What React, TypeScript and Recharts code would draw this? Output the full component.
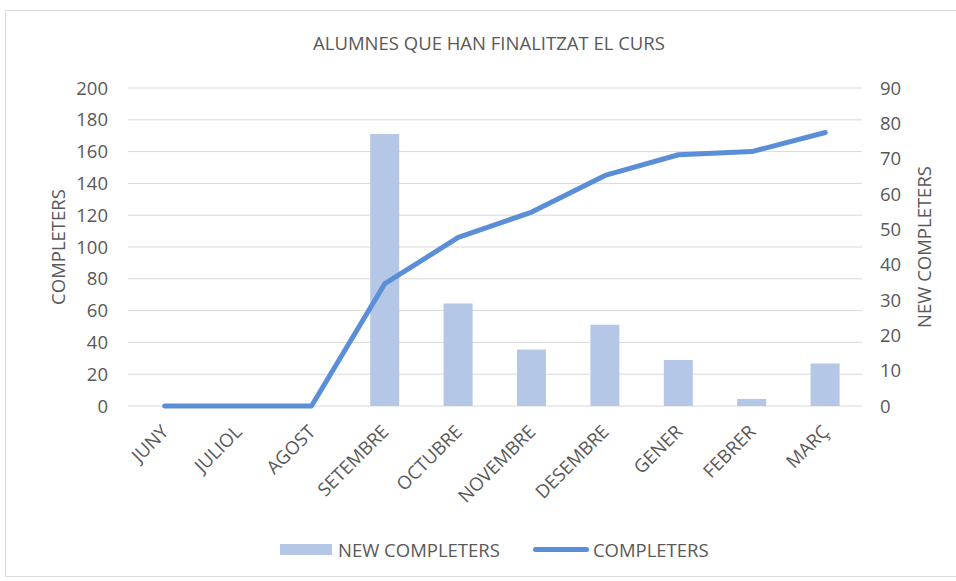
import React from 'react';
import { ComposedChart, Bar, Line, XAxis, YAxis, CartesianGrid, Label } from 'recharts';

const months = ['JUNY', 'JULIOL', 'AGOST', 'SETEMBRE', 'OCTUBRE', 'NOVEMBRE', 'DESEMBRE', 'GENER', 'FEBRER', 'MARÇ'];
const newCompleters = [0, 0, 0, 77, 29, 16, 23, 13, 2, 12];
const completers = [0, 0, 0, 77, 106, 122, 145, 158, 160, 172];
const leftTicks = [0, 20, 40, 60, 80, 100, 120, 140, 160, 180, 200];
const rightTicks = [0, 10, 20, 30, 40, 50, 60, 70, 80, 90];
const title = 'ALUMNES QUE HAN FINALITZAT EL CURS';
const barName = 'NEW COMPLETERS';
const lineName = 'COMPLETERS';

const data = months.map((m, i) => ({ month: m, newCompleters: newCompleters[i], completers: completers[i] }));

const FONT = '"Open Sans", sans-serif';
const FS = 18.5;
const TXT = '#595959';
const BAR = '#B4C7E7';
const LINE = '#5A8FD8';

const MonthTick = (props: any) => {
  const { x, y, payload } = props;
  const px = x + 5;
  return (
    <text x={px} y={y} transform={`rotate(-45 ${px} ${y})`} textAnchor="end" fill={TXT} fontSize={FS} fontFamily={FONT}>
      {payload.value}
    </text>
  );
};

const AxisTitle = (cx: number, cy: number, text: string) => () => (
  <text x={cx} y={cy} transform={`rotate(-90 ${cx} ${cy})`} textAnchor="middle" dominantBaseline="central" fill={TXT} fontSize={FS} fontFamily={FONT}>
    {text}
  </text>
);

export default function App() {
  return (
    <div style={{ position: 'absolute', left: 0, top: 0, width: 956, height: 581, background: '#fff', overflow: 'hidden' }}>
      <div style={{ position: 'absolute', left: 5, top: 10, width: 960, height: 567, borderTop: '1px solid #d9d9d9', borderLeft: '1px solid #d9d9d9', borderBottom: '1px solid #d9d9d9', boxSizing: 'border-box' }} />
      <div style={{ position: 'absolute', left: 0, top: 34, width: 978, textAlign: 'center', fontFamily: FONT, fontSize: FS, lineHeight: `${FS}px`, color: TXT, whiteSpace: 'nowrap' }}>
        {title}
      </div>
      <div style={{ position: 'absolute', left: 0, top: 0 }}>
        <ComposedChart width={956} height={581} data={data} margin={{ top: 88, right: 0, bottom: 0, left: 0 }}>
          <CartesianGrid horizontal vertical={false} yAxisId="left" stroke="#d9d9d9" strokeWidth={1} />
          <XAxis dataKey="month" height={175} tickSize={0} tickMargin={27} axisLine={false} tickLine={false} tick={<MonthTick />} interval={0} />
          <YAxis yAxisId="left" orientation="left" width={128} domain={[0, 200]} ticks={leftTicks} axisLine={false} tickLine={false} tickSize={0} tickMargin={20} tick={{ fill: TXT, fontSize: FS, fontFamily: FONT }}>
            <Label content={AxisTitle(57, 247, lineName)} />
          </YAxis>
          <YAxis yAxisId="right" orientation="right" width={94} domain={[0, 90]} ticks={rightTicks} axisLine={false} tickLine={false} tickSize={0} tickMargin={18} tick={{ fill: TXT, fontSize: FS, fontFamily: FONT, textAnchor: 'start' }}>
            <Label content={AxisTitle(923, 247, barName)} />
          </YAxis>
          <Bar yAxisId="right" dataKey="newCompleters" name={barName} fill={BAR} barSize={29} isAnimationActive={false} />
          <Line yAxisId="left" dataKey="completers" name={lineName} type="linear" stroke={LINE} strokeWidth={5} dot={false} activeDot={false} strokeLinejoin="round" strokeLinecap="round" isAnimationActive={false} />
        </ComposedChart>
      </div>
      <div style={{ position: 'absolute', left: 280, top: 539, height: 20, display: 'flex', alignItems: 'center', fontFamily: FONT, fontSize: FS, color: TXT, whiteSpace: 'nowrap' }}>
        <span style={{ display: 'inline-block', width: 52, height: 11, background: BAR, marginRight: 6 }} />
        <span>{barName}</span>
        <span style={{ display: 'inline-block', width: 56, height: 5, borderRadius: 3, background: LINE, marginLeft: 33, marginRight: 4 }} />
        <span>{lineName}</span>
      </div>
    </div>
  );
}
